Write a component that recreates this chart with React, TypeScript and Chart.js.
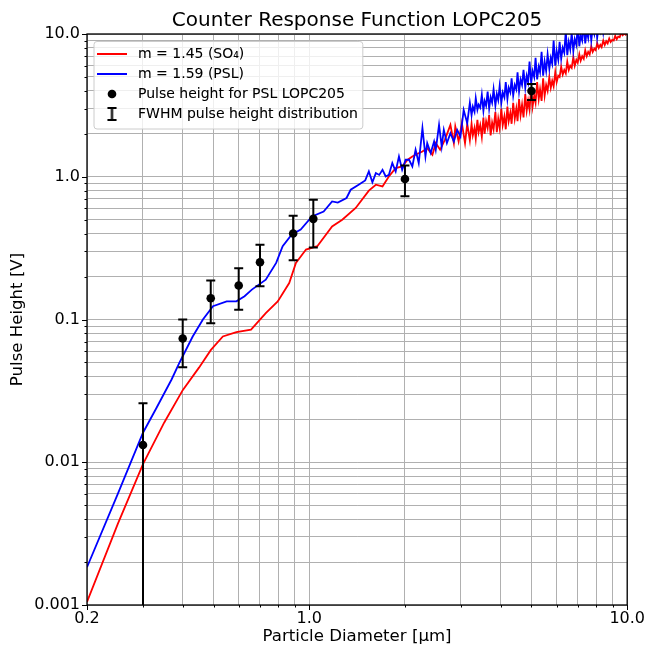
import React, { useEffect, useRef } from 'react';
import { Chart, registerables } from 'chart.js';

Chart.register(...registerables);

const FONT = "'DejaVu Sans', sans-serif";

const chartTitle = 'Counter Response Function LOPC205';
const xAxisTitle = 'Particle Diameter [μm]';
const yAxisTitle = 'Pulse Height [V]';

const legendTexts = [
  'm = 1.45 (SO₄)',
  'm = 1.59 (PSL)',
  'Pulse height for PSL LOPC205',
  'FWHM pulse height distribution',
];

// m = 1.45 (SO4) response curve
const redX = [
  0.2, 0.25, 0.3, 0.35, 0.4, 0.45, 0.49, 0.535, 0.59,
  0.656, 0.73, 0.796, 0.865, 0.908, 0.977, 1.06, 1.18, 1.27, 1.4,
  1.54, 1.62, 1.7, 1.78, 1.87, 1.96, 2.04, 2.11, 2.19, 2.27,
  2.35, 2.44, 2.5, 2.58, 2.67, 2.78, 2.85, 2.88, 2.95, 3.02,
  3.09, 3.14,
  3.2, 3.24, 3.27, 3.31, 3.34, 3.38, 3.41, 3.45, 3.49, 3.53,
  3.56, 3.6, 3.64, 3.68, 3.72, 3.76, 3.8, 3.85, 3.89, 3.93,
  3.97, 4.02, 4.06, 4.11, 4.15, 4.2, 4.24, 4.29, 4.33, 4.38,
  4.43, 4.48, 4.52, 4.57, 4.62, 4.67, 4.72, 4.78, 4.83, 4.88,
  4.93, 4.99, 5.04, 5.1, 5.15, 5.21, 5.27, 5.32, 5.38, 5.44,
  5.5, 5.56, 5.62, 5.69, 5.75, 5.81, 5.87, 5.94, 6.0, 6.07,
  6.13, 6.2, 6.27, 6.34, 6.41, 6.48, 6.55, 6.62, 6.69, 6.77,
  6.84, 6.92, 6.99, 7.07, 7.14, 7.22, 7.3, 7.38, 7.46, 7.54,
  7.62, 7.71, 7.79, 7.88, 7.96, 8.05, 8.14, 8.23, 8.31, 8.41,
  8.5, 8.59, 8.68, 8.78, 8.87, 8.97, 9.07, 9.17, 9.27, 9.37,
  9.47, 9.58, 9.68, 9.79, 9.89, 10.0,
];
const redY = [
  0.00105, 0.0037, 0.0097, 0.019, 0.032, 0.046, 0.061, 0.076, 0.0815,
  0.085, 0.111, 0.134, 0.18, 0.249, 0.309, 0.326, 0.449, 0.5, 0.604,
  0.8, 0.879, 0.855, 1.005, 1.15, 1.18, 1.315, 1.387, 1.45, 1.503,
  1.587, 1.425, 1.72, 1.545, 1.814, 2.31, 1.72, 2.25, 1.77, 2.375,
  1.72, 2.35,
  1.8, 2.35, 1.95, 2.2, 1.85, 2.5, 2.05, 2.3, 1.9, 2.6,
  2.0, 2.45, 2.2, 2.7, 1.95, 2.4, 2.15, 2.85, 2.05, 2.55,
  2.2, 3.0, 2.3, 2.65, 2.15, 3.1, 2.45, 2.8, 2.35, 3.3,
  2.55, 3.0, 2.45, 3.5, 2.7, 3.2, 2.6, 3.8, 2.9, 3.4,
  2.95, 4.2, 3.1, 3.7, 3.3, 4.6, 3.5, 4.1, 3.4, 4.9,
  3.7, 4.4, 4.0, 5.0, 4.2, 4.7, 4.3, 5.4, 4.6, 5.1,
  5.0, 5.9, 5.2, 5.6, 5.3, 6.4, 5.6, 6.0, 5.8, 6.9,
  6.0, 6.6, 6.3, 7.2, 6.5, 7.0, 6.7, 7.7, 7.0, 7.5,
  7.2, 8.2, 7.5, 7.9, 7.7, 8.6, 8.0, 8.4, 8.1, 9.0,
  8.4, 8.9, 8.6, 9.3, 8.8, 9.1, 9.0, 9.7, 9.2, 9.6,
  9.5, 10.2, 9.8, 10.1, 9.9, 10.6,
];

// m = 1.59 (PSL) response curve
const blueX = [
  0.2, 0.25, 0.3, 0.331, 0.369, 0.391, 0.43, 0.463, 0.498, 0.55,
  0.59, 0.626, 0.66, 0.73, 0.787, 0.825, 0.88, 0.94, 1.02, 1.11,
  1.18, 1.23, 1.31, 1.35, 1.43, 1.5, 1.54, 1.58, 1.62, 1.66,
  1.7, 1.74, 1.78, 1.825, 1.87, 1.915, 1.96, 2.01, 2.06, 2.11,
  2.16, 2.21, 2.27, 2.32, 2.35, 2.41, 2.47, 2.5, 2.56, 2.61,
  2.65, 2.71, 2.78, 2.85, 2.92, 2.99, 3.06, 3.14,
  3.2, 3.24, 3.27, 3.31, 3.34, 3.38, 3.41, 3.45, 3.49, 3.53,
  3.56, 3.6, 3.64, 3.68, 3.72, 3.76, 3.8, 3.85, 3.89, 3.93,
  3.97, 4.02, 4.06, 4.11, 4.15, 4.2, 4.24, 4.29, 4.33, 4.38,
  4.43, 4.48, 4.52, 4.57, 4.62, 4.67, 4.72, 4.78, 4.83, 4.88,
  4.93, 4.99, 5.04, 5.1, 5.15, 5.21, 5.27, 5.32, 5.38, 5.44,
  5.5, 5.56, 5.62, 5.69, 5.75, 5.81, 5.87, 5.94, 6.0, 6.07,
  6.13, 6.2, 6.27, 6.34, 6.41, 6.48, 6.55, 6.62, 6.69, 6.77,
  6.84, 6.92, 6.99, 7.07, 7.14, 7.22, 7.3, 7.38, 7.46, 7.54,
  7.62, 7.71, 7.79, 7.88, 7.96, 8.05, 8.14, 8.23, 8.31, 8.41,
  8.5, 8.59, 8.68, 8.78, 8.87, 8.97, 9.07, 9.17, 9.27, 9.37,
  9.47, 9.58, 9.68, 9.79, 9.89, 10.0,
];
const blueY = [
  0.00184, 0.006, 0.0161, 0.0241, 0.038, 0.05, 0.076, 0.1, 0.124, 0.134,
  0.134, 0.1456, 0.162, 0.19, 0.249, 0.326, 0.393, 0.426, 0.527, 0.571,
  0.672, 0.66, 0.71, 0.811, 0.88, 0.942, 1.089, 0.915, 1.061, 1.03,
  1.119, 1.005, 1.03, 1.247, 1.089, 1.387, 1.119, 1.315, 1.315, 1.18,
  1.545, 1.247, 2.19, 1.387, 1.721, 1.465, 1.766, 1.545, 2.31, 1.629,
  2.13, 1.721, 2.02, 1.766, 2.13, 1.913, 2.94, 2.375,
  3.3, 2.7, 3.1, 2.85, 3.55, 2.95, 3.2, 3.05, 3.75, 2.9,
  3.4, 3.15, 3.95, 3.0, 3.6, 3.3, 4.1, 3.15, 3.8, 3.45,
  4.3, 3.3, 3.9, 3.6, 4.6, 3.5, 4.2, 3.9, 4.9, 3.7,
  4.4, 4.1, 5.4, 3.95, 4.8, 4.4, 5.6, 4.2, 5.1, 4.6,
  6.4, 4.5, 5.5, 5.0, 6.8, 4.8, 5.9, 5.4, 7.5, 5.1,
  6.4, 5.5, 7.2, 5.7, 6.8, 6.2, 9.0, 6.0, 7.6, 6.6,
  8.8, 6.7, 8.0, 7.4, 10.5, 7.1, 8.8, 7.8, 10.2, 7.6,
  9.2, 8.4, 11.5, 8.2, 9.8, 9.0, 11.8, 8.6, 10.5, 9.4,
  12.0, 9.0, 11.0, 10.0, 12.5, 9.5, 11.5, 10.5, 12.5, 10.2,
  12.0, 11.0, 13.0, 10.8, 12.5, 11.5, 13.0, 11.2, 13.0, 12.0,
  13.5, 12.0, 14.0, 12.5, 14.0, 13.5,
];

// measured PSL pulse heights and FWHM of the pulse height distribution
const pointX = [0.3, 0.4, 0.49, 0.6, 0.7, 0.89, 1.03, 2.0, 5.0];
const pointY = [0.0132, 0.0736, 0.141, 0.173, 0.252, 0.4, 0.507, 0.964, 3.99];
const errLow = [0, 0.0462, 0.094, 0.117, 0.171, 0.26, 0.319, 0.73, 3.45];
const errHigh = [0.0259, 0.1, 0.1875, 0.229, 0.334, 0.533, 0.69, 1.2, 4.47];

const xTickValues = [0.2, 0.3, 0.4, 0.5, 0.6, 0.7, 0.8, 0.9, 1, 2, 3, 4, 5, 6, 7, 8, 9, 10];
const xMajorValues = [0.2, 1, 10];
const xMajorLabels = ['0.2', '1.0', '10.0'];
const yTickValues = [
  0.001, 0.002, 0.003, 0.004, 0.005, 0.006, 0.007, 0.008, 0.009,
  0.01, 0.02, 0.03, 0.04, 0.05, 0.06, 0.07, 0.08, 0.09,
  0.1, 0.2, 0.3, 0.4, 0.5, 0.6, 0.7, 0.8, 0.9,
  1, 2, 3, 4, 5, 6, 7, 8, 9, 10,
];
const yMajorValues = [0.001, 0.01, 0.1, 1, 10];
const yMajorLabels = ['0.001', '0.01', '0.1', '1.0', '10.0'];

const majorIndex = (v: number, list: number[]) =>
  list.findIndex((m) => Math.abs(v - m) / m < 1e-6);

function makeIcon(kind: string): HTMLCanvasElement {
  const c = document.createElement('canvas');
  const ctx = c.getContext('2d') as CanvasRenderingContext2D;
  if (kind === 'red' || kind === 'blue') {
    c.width = 30; c.height = 4;
    ctx.strokeStyle = kind === 'red' ? '#ff0000' : '#0000ff';
    ctx.lineWidth = 2;
    ctx.beginPath(); ctx.moveTo(0, 2); ctx.lineTo(30, 2); ctx.stroke();
  } else if (kind === 'dot') {
    c.width = 10; c.height = 10;
    ctx.fillStyle = '#000';
    ctx.beginPath(); ctx.arc(5, 5, 4.3, 0, Math.PI * 2); ctx.fill();
  } else {
    c.width = 11; c.height = 14;
    ctx.strokeStyle = '#000';
    ctx.lineWidth = 2;
    ctx.beginPath();
    ctx.moveTo(5.5, 1); ctx.lineTo(5.5, 13);
    ctx.moveTo(1, 1); ctx.lineTo(10, 1);
    ctx.moveTo(1, 13); ctx.lineTo(10, 13);
    ctx.stroke();
  }
  return c;
}

export default function App() {
  const ref = useRef<HTMLCanvasElement | null>(null);

  useEffect(() => {
    if (!ref.current) return;
    const icons = [makeIcon('red'), makeIcon('blue'), makeIcon('dot'), makeIcon('err')];

    const legendPlacePlugin = {
      id: 'legendPlace',
      afterLayout(chart: any) {
        const lg = chart.legend;
        const a = chart.chartArea;
        if (!lg) return;
        const dy = a.top - lg.top;
        const dx = a.left - lg.left;
        const w = lg.width;
        const h = lg.height;
        lg.left = a.left;
        lg.top = a.top;
        lg.right = a.left + w;
        lg.bottom = a.top + h;
        (lg.legendHitBoxes || []).forEach((hb: any) => {
          hb.top += dy;
          hb.left += dx;
        });
      },
    };

    const errorBarPlugin = {
      id: 'errorBars',
      afterDatasetDraw(chart: any, args: any) {
        if (args.index !== 1) return;
        const { ctx, chartArea: a } = chart;
        const xs = chart.scales.x;
        const ys = chart.scales.y;
        ctx.save();
        ctx.beginPath();
        ctx.rect(a.left, a.top, a.right - a.left, a.bottom - a.top);
        ctx.clip();
        ctx.strokeStyle = '#000';
        ctx.lineWidth = 2;
        pointX.forEach((px, i) => {
          const cx = xs.getPixelForValue(px);
          const yHi = ys.getPixelForValue(errHigh[i]);
          const hasLow = errLow[i] > 0;
          const yLo = hasLow ? ys.getPixelForValue(errLow[i]) : a.bottom + 5;
          ctx.beginPath();
          ctx.moveTo(cx, yLo); ctx.lineTo(cx, yHi);
          ctx.moveTo(cx - 4.5, yHi); ctx.lineTo(cx + 4.5, yHi);
          if (hasLow) { ctx.moveTo(cx - 4.5, yLo); ctx.lineTo(cx + 4.5, yLo); }
          ctx.stroke();
        });
        ctx.restore();
      },
    };

    const framePlugin = {
      id: 'frameTicksLegend',
      afterDraw(chart: any) {
        const { ctx, chartArea: a } = chart;
        const xs = chart.scales.x;
        const ys = chart.scales.y;
        ctx.save();
        ctx.strokeStyle = '#000';
        ctx.lineWidth = 1;
        ctx.beginPath();
        xs.ticks.forEach((t: any) => {
          const p = Math.round(xs.getPixelForValue(t.value)) + 0.5;
          const len = majorIndex(t.value, xMajorValues) >= 0 ? 5 : 2.5;
          ctx.moveTo(p, a.bottom); ctx.lineTo(p, a.bottom + len);
        });
        ys.ticks.forEach((t: any) => {
          const p = Math.round(ys.getPixelForValue(t.value)) + 0.5;
          const len = majorIndex(t.value, yMajorValues) >= 0 ? 5 : 2.5;
          ctx.moveTo(a.left - len, p); ctx.lineTo(a.left, p);
        });
        ctx.stroke();
        ctx.lineWidth = 1.3;
        ctx.strokeRect(a.left, a.top, a.right - a.left, a.bottom - a.top);

        const lg = chart.legend;
        if (lg && lg.legendHitBoxes && lg.legendHitBoxes.length) {
          const hb = lg.legendHitBoxes;
          const first = hb[0];
          const last = hb[hb.length - 1];
          let right = 0;
          hb.forEach((h: any) => { right = Math.max(right, h.left + h.width); });
          const x0 = first.left + 1;
          const y0 = first.top - 5.5;
          const x1 = right + 5;
          const y1 = last.top + last.height + 8;
          const r = 3;
          ctx.beginPath();
          ctx.moveTo(x0 + r, y0);
          ctx.lineTo(x1 - r, y0); ctx.arcTo(x1, y0, x1, y0 + r, r);
          ctx.lineTo(x1, y1 - r); ctx.arcTo(x1, y1, x1 - r, y1, r);
          ctx.lineTo(x0 + r, y1); ctx.arcTo(x0, y1, x0, y1 - r, r);
          ctx.lineTo(x0, y0 + r); ctx.arcTo(x0, y0, x0 + r, y0, r);
          ctx.closePath();
          ctx.fillStyle = 'rgba(255,255,255,0.8)';
          ctx.fill();
          ctx.strokeStyle = '#cccccc';
          ctx.lineWidth = 1;
          ctx.stroke();
          ctx.restore();
          lg.draw();
          return;
        }
        ctx.restore();
      },
    };

    const chart = new Chart(ref.current, {
      type: 'line',
      data: {
        datasets: [
          {
            label: legendTexts[0],
            data: redX.map((x, i) => ({ x, y: redY[i] })),
            borderColor: '#ff0000',
            borderWidth: 1.8,
            pointRadius: 0,
            fill: false,
            tension: 0,
            order: 3,
          },
          {
            label: legendTexts[1],
            data: blueX.map((x, i) => ({ x, y: blueY[i] })),
            borderColor: '#0000ff',
            borderWidth: 1.8,
            pointRadius: 0,
            fill: false,
            tension: 0,
            order: 2,
          },
          {
            label: legendTexts[2],
            data: pointX.map((x, i) => ({ x, y: pointY[i] })),
            showLine: false,
            pointRadius: 4.3,
            pointBackgroundColor: '#000',
            pointBorderWidth: 0,
            borderColor: '#000',
            order: 1,
          },
        ],
      },
      options: {
        responsive: false,
        animation: false,
        events: [],
        layout: { padding: { left: 0, right: 20, top: 0, bottom: 0 } },
        scales: {
          x: {
            type: 'logarithmic',
            min: 0.2,
            max: 10,
            afterBuildTicks: (scale: any) => {
              scale.ticks = xTickValues.map((v) => ({ value: v }));
            },
            afterFit: (scale: any) => { scale.height = 41; },
            ticks: {
              autoSkip: false,
              maxRotation: 0,
              padding: 4,
              color: '#000',
              font: { family: FONT, size: 16 },
              callback: (v: any) => {
                const i = majorIndex(Number(v), xMajorValues);
                return i >= 0 ? xMajorLabels[i] : '';
              },
            },
            grid: { color: '#b0b0b0', lineWidth: 1, drawTicks: false },
            border: { display: false },
            title: {
              display: true,
              text: xAxisTitle,
              color: '#000',
              font: { family: FONT, size: 16.6, lineHeight: 1.1 },
              padding: { top: 0, bottom: 0 },
            },
          },
          y: {
            type: 'logarithmic',
            min: 0.001,
            max: 10,
            afterBuildTicks: (scale: any) => {
              scale.ticks = yTickValues.map((v) => ({ value: v }));
            },
            afterFit: (scale: any) => { scale.width = 87; },
            ticks: {
              autoSkip: false,
              padding: 7,
              color: '#000',
              font: { family: FONT, size: 16 },
              callback: (v: any) => {
                const i = majorIndex(Number(v), yMajorValues);
                return i >= 0 ? yMajorLabels[i] : '';
              },
            },
            grid: { color: '#b0b0b0', lineWidth: 1, drawTicks: false },
            border: { display: false },
            title: {
              display: true,
              text: yAxisTitle,
              color: '#000',
              font: { family: FONT, size: 16.6, lineHeight: 1.2 },
              padding: { top: 8, bottom: 0 },
            },
          },
        },
        plugins: {
          title: {
            display: true,
            fullSize: false,
            text: chartTitle,
            color: '#000',
            font: { family: FONT, size: 20, weight: 'normal', lineHeight: 1.2 },
            padding: { top: 9, bottom: 1 },
          },
          legend: {
            display: true,
            position: 'chartArea',
            align: 'start',
            title: { display: true, text: '', font: { size: 1, lineHeight: 1 }, padding: { top: 6, bottom: 0 } },
            labels: {
              usePointStyle: true,
              pointStyleWidth: 38,
              padding: 6,
              color: '#000',
              font: { family: FONT, size: 14 },
              generateLabels: () =>
                legendTexts.map((text, i) => ({
                  text,
                  pointStyle: icons[i],
                  fillStyle: 'rgba(0,0,0,0)',
                  strokeStyle: 'rgba(0,0,0,0)',
                  lineWidth: 0,
                  hidden: false,
                  fontColor: '#000',
                  datasetIndex: i < 3 ? i : undefined,
                })),
            },
          },
          tooltip: { enabled: false },
        },
      },
      plugins: [legendPlacePlugin, errorBarPlugin, framePlugin],
    } as any);

    return () => chart.destroy();
  }, []);

  return (
    <div style={{ position: 'absolute', left: 0, top: 0, width: 649, height: 646, background: '#fff' }}>
      <canvas ref={ref} width={649} height={646} style={{ display: 'block' }} />
    </div>
  );
}
